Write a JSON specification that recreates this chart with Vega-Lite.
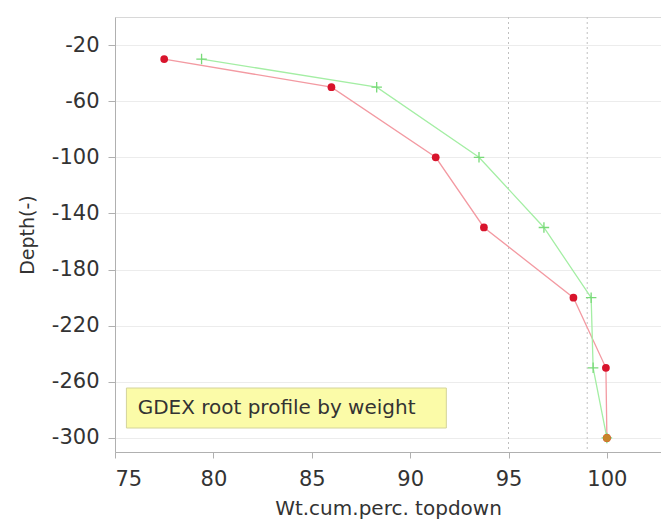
{
  "$schema": "https://vega.github.io/schema/vega-lite/v6.json",
  "width": 546,
  "height": 435,
  "autosize": {"type": "none"},
  "padding": {"left": 115, "top": 17, "right": 0, "bottom": 72},
  "background": "white",
  "config": {
    "font": "DejaVu Sans",
    "view": {"stroke": "#d8d8d8", "strokeWidth": 1},
    "axis": {
      "labelFont": "DejaVu Sans",
      "titleFont": "DejaVu Sans",
      "labelColor": "#333",
      "titleColor": "#333",
      "titleFontWeight": "normal",
      "domainColor": "#b0b0b0",
      "tickColor": "#b0b0b0"
    }
  },
  "datasets": {
    "profile": [
      {"series": "red", "pct": 77.5, "depth": -30},
      {"series": "red", "pct": 86.0, "depth": -50},
      {"series": "red", "pct": 91.3, "depth": -100},
      {"series": "red", "pct": 93.75, "depth": -150},
      {"series": "red", "pct": 98.3, "depth": -200},
      {"series": "red", "pct": 99.95, "depth": -250},
      {"series": "red", "pct": 100.0, "depth": -300},
      {"series": "green", "pct": 79.4, "depth": -30},
      {"series": "green", "pct": 88.3, "depth": -50},
      {"series": "green", "pct": 93.5, "depth": -100},
      {"series": "green", "pct": 96.8, "depth": -150},
      {"series": "green", "pct": 99.2, "depth": -200},
      {"series": "green", "pct": 99.3, "depth": -250},
      {"series": "green", "pct": 100.0, "depth": -300}
    ],
    "overlap": [{"pct": 100.0, "depth": -300}],
    "refs": [{"pct": 95}, {"pct": 99}],
    "note": [{"x1": 75.58, "x2": 91.84, "y1": -264.4, "y2": -292.9, "tx": 76.15, "ty": -278.6, "label": "GDEX root profile by weight"}]
  },
  "layer": [
    {
      "data": {"name": "refs"},
      "mark": {"type": "rule", "color": "#c0c0c0", "strokeDash": [2, 3], "strokeWidth": 1},
      "encoding": {
        "x": {
          "field": "pct", "type": "quantitative",
          "scale": {"domain": [75, 102.75], "nice": false, "zero": false},
          "axis": {
            "values": [75, 80, 85, 90, 95, 100],
            "grid": false,
            "tickSize": 6,
            "labelFontSize": 21,
            "labelPadding": 10,
            "title": "Wt.cum.perc. topdown",
            "titleFontSize": 20,
            "titlePadding": 9
          }
        }
      }
    },
    {
      "data": {"name": "profile"},
      "mark": {"type": "line", "strokeWidth": 1.3},
      "encoding": {
        "x": {"field": "pct", "type": "quantitative"},
        "y": {
          "field": "depth", "type": "quantitative",
          "scale": {"domain": [-310, 0], "nice": false, "zero": false},
          "axis": {
            "values": [-20, -40, -60, -80, -100, -120, -140, -160, -180, -200, -220, -240, -260, -280, -300],
            "labelExpr": "(abs(datum.value) - 20) % 40 == 0 ? toString(datum.value) : ''",
            "grid": true,
            "gridColor": "#ececec",
            "tickSize": 7,
            "labelFontSize": 21,
            "labelPadding": 9,
            "title": "Depth(-)",
            "titleFontSize": 19,
            "titlePadding": 14
          }
        },
        "color": {
          "field": "series", "type": "nominal",
          "scale": {"domain": ["red", "green"], "range": ["#f39aa2", "#a4eea4"]},
          "legend": null
        },
        "order": {"field": "depth", "sort": "descending"}
      }
    },
    {
      "data": {"name": "profile"},
      "transform": [{"filter": "datum.series == 'green'"}],
      "mark": {"type": "point", "shape": "M-1,0L1,0M0,-1L0,1", "filled": false, "stroke": "#78da78", "strokeWidth": 1.3, "size": 110, "opacity": 1},
      "encoding": {
        "x": {"field": "pct", "type": "quantitative"},
        "y": {"field": "depth", "type": "quantitative"}
      }
    },
    {
      "data": {"name": "profile"},
      "transform": [{"filter": "datum.series == 'red'"}],
      "mark": {"type": "point", "shape": "circle", "filled": true, "color": "#d8142c", "size": 60, "opacity": 1},
      "encoding": {
        "x": {"field": "pct", "type": "quantitative"},
        "y": {"field": "depth", "type": "quantitative"}
      }
    },
    {
      "data": {"name": "overlap"},
      "mark": {"type": "point", "shape": "circle", "filled": true, "color": "#c8862a", "size": 60, "opacity": 1},
      "encoding": {
        "x": {"field": "pct", "type": "quantitative"},
        "y": {"field": "depth", "type": "quantitative"}
      }
    },
    {
      "data": {"name": "note"},
      "mark": {"type": "rect", "fill": "#fbfba8", "stroke": "#d4d49a", "strokeWidth": 1},
      "encoding": {
        "x": {"field": "x1", "type": "quantitative"},
        "x2": {"field": "x2"},
        "y": {"field": "y1", "type": "quantitative"},
        "y2": {"field": "y2"}
      }
    },
    {
      "data": {"name": "note"},
      "mark": {"type": "text", "align": "left", "baseline": "middle", "fontSize": 20, "color": "#333", "font": "DejaVu Sans"},
      "encoding": {
        "x": {"field": "tx", "type": "quantitative"},
        "y": {"field": "ty", "type": "quantitative"},
        "text": {"field": "label"}
      }
    }
  ]
}
